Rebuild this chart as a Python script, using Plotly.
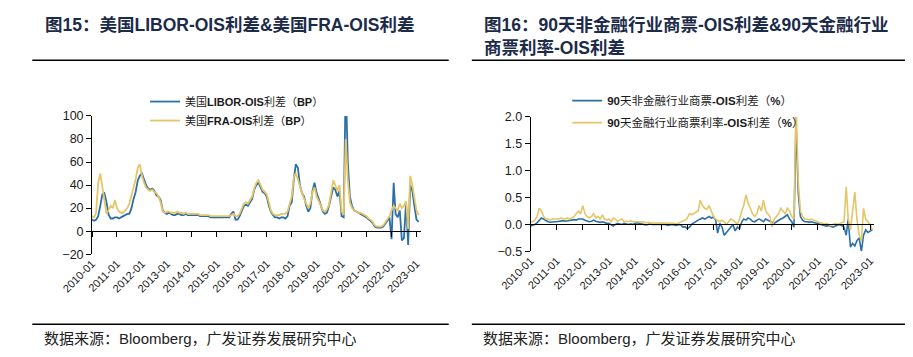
import plotly.graph_objects as go
import pandas as pd

W, H = 913, 357
OFF = 8  # the page body margin shifts the figure by 8px; positions below are photo pixels

# ---------------- data (monthly) ----------------
libor_ois = [  # 美国LIBOR-OIS利差 (BP), 2010-01 .. 2023-02
    10, 9, 10, 13, 22, 32, 33, 25, 14, 11, 11, 12,
    12, 11, 12, 13, 14, 15, 15, 20, 28, 34, 44, 48,
    50, 45, 40, 37, 36, 37, 35, 31, 30, 27, 18, 16,
    15, 16, 15, 14, 14, 15, 15, 14, 14, 15, 14, 14,
    14, 14, 14, 14, 13, 13, 13, 13, 13, 12, 12, 12,
    12, 12, 12, 12, 12, 12, 12, 15, 17, 10, 10, 13,
    18, 22, 23, 22, 25, 28, 36, 40, 42, 38, 34, 33,
    30, 22, 17, 14, 12, 12, 11, 12, 12, 11, 13, 22,
    25, 45, 58, 55, 40, 33, 30, 22, 17, 20, 35, 42,
    33, 28, 22, 17, 15, 16, 22, 30, 38, 36, 30, 35,
    13, 12, 130, 60, 30, 22, 18, 17, 16, 15, 14, 13,
    12, 10, 9, 7, 4, 3, 3, 3, 4, 6, 9, 12,
    -7, 42, 15, 12, 18, -8, -6, 25, -12, 40, 35, 22,
    10, 8,
]
fra_ois = [  # 美国FRA-OIS利差 (BP)
    13, 12, 16, 42, 50, 40, 27, 15, 18, 22, 20, 27,
    20, 17, 16, 16, 18, 20, 24, 30, 38, 45, 55, 58,
    48, 42, 38, 36, 35, 36, 34, 33, 30, 25, 17, 16,
    17, 17, 16, 16, 16, 17, 16, 16, 15, 16, 15, 15,
    15, 15, 15, 15, 14, 14, 14, 14, 14, 13, 13, 13,
    13, 13, 13, 13, 13, 13, 13, 14, 15, 13, 13, 15,
    20, 24, 25, 24, 27, 30, 37, 42, 44, 40, 36, 34,
    32, 25, 18, 15, 14, 14, 14, 15, 15, 15, 17, 24,
    30, 47, 50, 45, 38, 33, 28, 24, 20, 24, 34, 38,
    30, 26, 22, 18, 17, 19, 23, 32, 44, 40, 35, 40,
    17, 14, 80, 45, 25, 20, 18, 17, 16, 16, 15, 14,
    13, 11, 10, 8, 5, 4, 4, 4, 5, 8, 10, 13,
    18, 22, 20, 18, 24, 20, 22, 26, 2, 48, 40, 28,
    18, 14,
]
nonfin_cp_ois = [  # 90天非金融行业商票-OIS利差 (%)
    -0.03, -0.02, 0.0, 0.03, 0.08, 0.12, 0.10, 0.07, 0.05, 0.04, 0.05, 0.05,
    0.05, 0.06, 0.06, 0.07, 0.06, 0.07, 0.08, 0.08, 0.09, 0.08, 0.10, 0.10,
    0.10, 0.08, 0.06, 0.05, 0.06, 0.08, 0.06, 0.05, 0.04, 0.05, 0.03, 0.02,
    0.02, 0.0, -0.03, 0.0, 0.02, 0.01, 0.0, 0.02, 0.01, 0.0, 0.01, 0.0,
    0.02, 0.03, 0.02, 0.01, 0.0, -0.01, 0.0, 0.01, 0.0, 0.0, -0.01, 0.0,
    0.0, -0.01, 0.0, -0.02, -0.01, 0.0, -0.01, -0.02, 0.0, -0.01, -0.05, -0.04,
    -0.08, -0.05, 0.0, 0.03, 0.06, 0.08, 0.10, 0.12, 0.10, 0.13, 0.15, 0.12,
    0.14, 0.08, -0.16, 0.02, -0.05, -0.20, -0.15, -0.10, -0.05, 0.0, -0.12, -0.05,
    -0.08, 0.05, 0.10, 0.08, 0.12, 0.10, 0.06, 0.05, 0.08, 0.10, 0.08, 0.05,
    0.10, 0.08, 0.05, 0.03, 0.02, 0.05, 0.08, 0.10, 0.12, 0.15, 0.18, 0.10,
    0.05, -0.05, 1.90, 0.60, 0.15, 0.08, 0.05, 0.05, 0.04, 0.05, 0.04, 0.03,
    0.02, 0.0, 0.0, -0.02, -0.03, -0.02, -0.04, -0.05, -0.03, -0.02, 0.0, -0.02,
    -0.05, -0.20, 0.10, -0.42, -0.35, -0.40, -0.30, -0.25, -0.50, -0.20, -0.10, -0.15,
    -0.12, -0.10,
]
fin_cp_ois = [  # 90天金融行业商票利率-OIS利差 (%)
    0.05, 0.05, 0.08, 0.15, 0.30, 0.25, 0.15, 0.10, 0.10, 0.08, 0.10, 0.10,
    0.10, 0.10, 0.12, 0.10, 0.10, 0.12, 0.10, 0.12, 0.15, 0.20, 0.25, 0.20,
    0.35, 0.20, 0.15, 0.12, 0.15, 0.20, 0.12, 0.15, 0.10, 0.18, 0.10, 0.08,
    0.10, 0.05, 0.12, 0.10, 0.06, 0.08, 0.10, 0.05, 0.06, 0.05, 0.07, 0.05,
    0.05, 0.06, 0.05, 0.04, 0.05, 0.03, 0.04, 0.03, 0.03, 0.02, 0.03, 0.02,
    0.03, 0.02, 0.02, 0.02, 0.03, 0.02, 0.02, 0.01, 0.03, 0.05, 0.06, 0.08,
    0.12, 0.20, 0.18, 0.20, 0.22, 0.25, 0.45, 0.35, 0.30, 0.28, 0.35, 0.25,
    0.15, 0.10, 0.08, 0.05, 0.08, 0.05, 0.0, 0.05, 0.10, 0.08, 0.05, 0.0,
    0.10, 0.25, 0.35, 0.55, 0.40, 0.30, 0.20, 0.15, 0.20, 0.35, 0.25, 0.45,
    0.25, 0.20, 0.15, -0.05, 0.10, 0.15, 0.20, 0.30, 0.25, 0.20, 0.30, 0.25,
    0.15, 0.10, 2.30, 0.80, 0.25, 0.15, 0.10, 0.10, 0.08, 0.10, 0.08, 0.06,
    0.05, 0.03, 0.02, 0.0, 0.02, 0.0, -0.02, 0.0, 0.02, 0.0, 0.02, 0.03,
    0.05, 0.70, 0.10, -0.10, 0.20, 0.60, 0.10, -0.20, -0.30, 0.30, 0.10, 0.05,
    0.0, -0.10,
]

left_names = ["美国<b>LIBOR-OIS</b>利差（<b>BP</b>）", "美国<b>FRA-OIS</b>利差（<b>BP</b>）"]
right_names = ["<b>90</b>天非金融行业商票<b>-OIS</b>利差（<b>%</b>）",
               "<b>90</b>天金融行业商票利率<b>-OIS</b>利差（<b>%</b>）"]
left_yticks = [-20, 0, 20, 40, 60, 80, 100]
right_yticks = [-0.5, 0.0, 0.5, 1.0, 1.5, 2.0]
x_start, x_end = "2010-01-01", "2023-03-01"

dates = pd.date_range(x_start, periods=len(libor_ois), freq="MS")

BLUE = "#2b6fa7"
YELLOW = "#e6c567"
TXT = "#1a1a1a"
TITLE_C = "#1c2b4a"


def fx(px):
    return (px - OFF) / W


def fy(py):
    return 1 - (py - OFF) / H


fig = go.Figure()

fig.add_trace(go.Scatter(x=dates, y=libor_ois, name=left_names[0], mode="lines",
                         line=dict(color=BLUE, width=1.8), xaxis="x", yaxis="y", legend="legend"))
fig.add_trace(go.Scatter(x=dates, y=fra_ois, name=left_names[1], mode="lines",
                         line=dict(color=YELLOW, width=1.8), xaxis="x", yaxis="y", legend="legend"))
fig.add_trace(go.Scatter(x=dates, y=nonfin_cp_ois, name=right_names[0], mode="lines",
                         line=dict(color=BLUE, width=1.6), xaxis="x2", yaxis="y2",
                         legend="legend2", legendgroup="r1"))
fig.add_trace(go.Scatter(x=dates, y=fin_cp_ois, name=right_names[1], mode="lines",
                         line=dict(color=YELLOW, width=1.6), xaxis="x2", yaxis="y2",
                         legend="legend2", legendgroup="r2"))
# helper traces so the zero-line axes are drawn
fig.add_trace(go.Scatter(x=[dates[0]], y=[None], xaxis="x3", yaxis="y", showlegend=False, hoverinfo="skip"))
fig.add_trace(go.Scatter(x=[dates[0]], y=[None], xaxis="x4", yaxis="y2", showlegend=False, hoverinfo="skip"))

L_dom_x = [fx(62), fx(402.8)]
L_dom_y = [fy(257), fy(113)]
R_dom_x = [fx(517), fx(873.6)]
R_dom_y = [fy(254), fy(114)]

L_range = [left_yticks[0], left_yticks[-1]]
R_range = [right_yticks[0], right_yticks[-1]]

L_zero = L_dom_y[0] + (L_dom_y[1] - L_dom_y[0]) * (0 - L_range[0]) / (L_range[1] - L_range[0])
R_zero = R_dom_y[0] + (R_dom_y[1] - R_dom_y[0]) * (0 - R_range[0]) / (R_range[1] - R_range[0])

LAT = "Liberation Sans, Arial, Noto Sans CJK SC"
tickfont = dict(family=LAT, size=12.5, color=TXT)
xtickfont = dict(family=LAT, size=11, color=TXT)
legfont = dict(family=LAT, size=11, color=TXT)
legfont2 = dict(family=LAT, size=11.5, color=TXT)

common_x = dict(type="date", range=[x_start, x_end], tick0=x_start, dtick="M12",
                tickformat="%Y-%m", showgrid=False, zeroline=False)

fig.update_layout(
    width=W, height=H, margin=dict(l=0, r=0, t=0, b=0),
    paper_bgcolor="white", plot_bgcolor="white", dragmode=False,
    xaxis=dict(**common_x, domain=L_dom_x, anchor="y", showline=False, ticks="",
               tickangle=-45, tickfont=xtickfont),
    yaxis=dict(domain=L_dom_y, range=L_range, tickvals=left_yticks, anchor="x",
               showline=True, linecolor="black", linewidth=1, ticks="outside", ticklen=5,
               tickcolor="black", showgrid=False, zeroline=False, tickfont=tickfont),
    xaxis3=dict(**common_x, overlaying="x", anchor="free", position=L_zero,
                showline=True, linecolor="black", linewidth=1, ticks="outside", ticklen=5,
                tickcolor="black", showticklabels=False),
    xaxis2=dict(**common_x, domain=R_dom_x, anchor="y2", showline=False, ticks="",
                tickangle=-45, tickfont=xtickfont),
    yaxis2=dict(domain=R_dom_y, range=R_range, tickvals=right_yticks, tickformat=".1f",
                anchor="x2", showline=True, linecolor="black", linewidth=1, ticks="outside",
                ticklen=5, tickcolor="black", showgrid=False, zeroline=False, tickfont=tickfont),
    xaxis4=dict(**common_x, overlaying="x2", anchor="free", position=R_zero,
                showline=True, linecolor="black", linewidth=1, ticks="outside", ticklen=5,
                tickcolor="black", showticklabels=False),
    legend=dict(x=fx(117), y=fy(83), xanchor="left", yanchor="top", bgcolor="rgba(0,0,0,0)",
                font=legfont, itemwidth=30, tracegroupgap=0),
    legend2=dict(x=fx(555), y=fy(82), xanchor="left", yanchor="top", bgcolor="rgba(0,0,0,0)",
                 font=legfont2, itemwidth=30, tracegroupgap=3),
    showlegend=True,
)

title_font = dict(family=LAT, size=17.5, color=TITLE_C)
foot_font = dict(family=LAT, size=15, color="#222")
fig.add_annotation(text="<b>图15：美国LIBOR-OIS利差&美国FRA-OIS利差</b>", xref="paper", yref="paper",
                   x=fx(11), y=fy(18), xanchor="left", yanchor="middle", showarrow=False, font=title_font)
fig.add_annotation(text="<b>图16：90天非金融行业商票-OIS利差&90天金融行业</b>", xref="paper", yref="paper",
                   x=fx(467), y=fy(18), xanchor="left", yanchor="middle", showarrow=False, font=title_font)
fig.add_annotation(text="<b>商票利率-OIS利差</b>", xref="paper", yref="paper",
                   x=fx(467), y=fy(42), xanchor="left", yanchor="middle", showarrow=False, font=title_font)
fig.add_annotation(text="数据来源：Bloomberg，广发证券发展研究中心", xref="paper", yref="paper",
                   x=fx(10), y=fy(345), xanchor="left", yanchor="middle", showarrow=False, font=foot_font)
fig.add_annotation(text="数据来源：Bloomberg，广发证券发展研究中心", xref="paper", yref="paper",
                   x=fx(466), y=fy(345), xanchor="left", yanchor="middle", showarrow=False, font=foot_font)

for x0, x1 in [(0, 432), (456, 913)]:
    fig.add_shape(type="line", xref="paper", yref="paper", x0=fx(x0), x1=fx(x1), y0=fy(55), y1=fy(55),
                  line=dict(color="black", width=1.5))
    fig.add_shape(type="line", xref="paper", yref="paper", x0=fx(x0), x1=fx(x1), y0=fy(330), y1=fy(330),
                  line=dict(color="black", width=1.5))

fig.write_html("out.html", config={"staticPlot": True, "displayModeBar": False})
